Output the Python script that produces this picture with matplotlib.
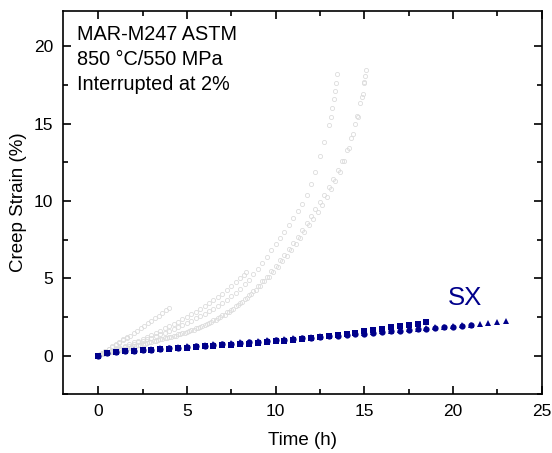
import matplotlib
matplotlib.use('Agg')
import matplotlib.pyplot as plt

plt.rcParams['font.family'] = ['Liberation Sans', 'DejaVu Sans']

# MAR-M247 reference curves (grey, to rupture)
t_a = [0, 0.2, 0.4, 0.6, 0.8, 1.0, 1.2, 1.4, 1.6]
e_a = [0, 0.15, 0.3, 0.45, 0.6, 0.75, 0.9, 1.05, 1.22]

t_b = [0, 0.2, 0.4, 0.6, 0.8, 1.0, 1.2, 1.4, 1.6, 1.8, 2.0, 2.2, 2.4, 2.6, 2.8, 3.0, 3.2, 3.4, 3.6, 3.8, 4.0]
e_b = [0, 0.15, 0.28, 0.42, 0.56, 0.7, 0.84, 0.98, 1.12, 1.28, 1.45, 1.6, 1.76, 1.92, 2.08, 2.25, 2.41, 2.57, 2.74, 2.92, 3.1]

t_c = [0, 0.25, 0.5, 0.75, 1, 1.25, 1.5, 1.75, 2, 2.25, 2.5, 2.75, 3, 3.25, 3.5, 3.75, 4, 4.25, 4.5, 4.75,
       5, 5.25, 5.5, 5.75, 6, 6.25, 6.5, 6.75, 7, 7.25, 7.5, 7.75, 8, 8.2, 8.36]
e_c = [0, 0.1, 0.2, 0.3, 0.4, 0.51, 0.62, 0.73, 0.85, 0.97, 1.1, 1.22, 1.35, 1.48, 1.62, 1.76, 1.9, 2.05, 2.2, 2.35,
       2.5, 2.67, 2.84, 3.02, 3.2, 3.4, 3.6, 3.8, 4.0, 4.25, 4.5, 4.75, 5.0, 5.2, 5.4]

t_d = [0, 0.25, 0.5, 0.75, 1, 1.25, 1.5, 1.75, 2, 2.25, 2.5, 2.75, 3, 3.25, 3.5, 3.75, 4, 4.25, 4.5, 4.75,
       5, 5.25, 5.5, 5.75, 6, 6.25, 6.5, 6.75, 7, 7.25, 7.5, 7.75, 8, 8.25, 8.5, 8.75, 9, 9.25, 9.5, 9.75,
       10, 10.25, 10.5, 10.75, 11, 11.25, 11.5, 11.75, 12, 12.25, 12.5, 12.75, 13, 13.1, 13.2, 13.3, 13.35, 13.4, 13.45]
e_d = [0, 0.1, 0.19, 0.27, 0.35, 0.45, 0.55, 0.65, 0.75, 0.85, 0.95, 1.05, 1.15, 1.26, 1.37, 1.48, 1.6, 1.72, 1.85, 1.97,
       2.1, 2.25, 2.4, 2.55, 2.7, 2.87, 3.04, 3.22, 3.4, 3.62, 3.84, 4.07, 4.3, 4.6, 4.9, 5.25, 5.6, 6.0, 6.4, 6.8,
       7.2, 7.6, 8.0, 8.45, 8.9, 9.35, 9.8, 10.4, 11.1, 11.9, 12.9, 13.8, 14.9, 15.4, 16.0, 16.6, 17.1, 17.6, 18.2]

t_e1 = [0, 0.25, 0.5, 0.75, 1, 1.25, 1.5, 1.75, 2, 2.25, 2.5, 2.75, 3, 3.25, 3.5, 3.75, 4, 4.25, 4.5, 4.75,
        5, 5.25, 5.5, 5.75, 6, 6.25, 6.5, 6.75, 7, 7.25, 7.5, 7.75, 8, 8.25, 8.5, 8.75, 9, 9.25, 9.5, 9.75,
        10, 10.25, 10.5, 10.75, 11, 11.25, 11.5, 11.75, 12, 12.25, 12.5, 12.75, 13, 13.25, 13.5, 13.75,
        14, 14.25, 14.5, 14.6, 14.75, 14.9, 15.0, 15.05, 15.1]
e_e1 = [0, 0.12, 0.18, 0.24, 0.3, 0.37, 0.45, 0.52, 0.6, 0.67, 0.75, 0.82, 0.9, 0.97, 1.05, 1.12, 1.2, 1.28, 1.37, 1.46,
        1.55, 1.66, 1.77, 1.88, 2.0, 2.14, 2.28, 2.44, 2.6, 2.79, 2.98, 3.18, 3.4, 3.65, 3.9, 4.2, 4.5, 4.8, 5.1, 5.45,
        5.8, 6.15, 6.5, 6.9, 7.3, 7.7, 8.1, 8.55, 9.0, 9.45, 9.9, 10.4, 10.9, 11.45, 12.0, 12.6,
        13.3, 14.1, 15.0, 15.5, 16.3, 16.9, 17.7, 18.1, 18.45]

t_e2 = [0.125, 0.375, 0.625, 0.875, 1.125, 1.375, 1.625, 1.875, 2.125, 2.375, 2.625, 2.875, 3.125, 3.375, 3.625,
        3.875, 4.125, 4.375, 4.625, 4.875, 5.125, 5.375, 5.625, 5.875, 6.125, 6.375, 6.625, 6.875, 7.125, 7.375,
        7.625, 7.875, 8.125, 8.375, 8.625, 8.875, 9.125, 9.375, 9.625, 9.875, 10.125, 10.375, 10.625, 10.875,
        11.125, 11.375, 11.625, 11.875, 12.125, 12.375, 12.625, 12.875, 13.125, 13.375, 13.625, 13.875, 14.125,
        14.375, 14.625, 14.875, 15.0]
e_e2 = [0.08, 0.15, 0.21, 0.27, 0.33, 0.4, 0.48, 0.55, 0.62, 0.7, 0.77, 0.85, 0.92, 1.0, 1.07,
        1.15, 1.22, 1.3, 1.39, 1.48, 1.57, 1.68, 1.79, 1.9, 2.02, 2.16, 2.31, 2.47, 2.64, 2.83,
        3.03, 3.25, 3.48, 3.72, 3.98, 4.25, 4.52, 4.8, 5.1, 5.42, 5.75, 6.1, 6.45, 6.82,
        7.2, 7.6, 8.0, 8.42, 8.85, 9.3, 9.75, 10.25, 10.75, 11.3, 11.9, 12.6, 13.4,
        14.3, 15.4, 16.7, 17.6]

grey_t = [t_a, t_b, t_c, t_d, t_e1, t_e2]
grey_e = [e_a, e_b, e_c, e_d, e_e1, e_e2]

# SX curves (interrupted at 2 %)
t_sq = [0, 0.5, 1, 1.5, 2, 2.5, 3, 3.5, 4, 4.5, 5, 5.5, 6, 6.5, 7, 7.5, 8, 8.5, 9, 9.5, 10,
        10.5, 11, 11.5, 12, 12.5, 13, 13.5, 14, 14.5, 15, 15.5, 16, 16.5, 17, 17.5, 18, 18.5]
e_sq = [0.0, 0.2, 0.25, 0.28, 0.32, 0.35, 0.38, 0.41, 0.45, 0.48, 0.52, 0.55, 0.59, 0.62, 0.66, 0.7, 0.74, 0.78,
        0.82, 0.87, 0.92, 0.97, 1.02, 1.08, 1.14, 1.2, 1.27, 1.34, 1.41, 1.49, 1.57, 1.65, 1.73, 1.82, 1.9,
        1.98, 2.06, 2.2]

t_ci = [0, 0.5, 1, 1.5, 2, 2.5, 3, 3.5, 4, 4.5, 5, 5.5, 6, 6.5, 7, 7.5, 8, 8.5, 9, 9.5, 10,
        10.5, 11, 11.5, 12, 12.5, 13, 13.5, 14, 14.5, 15, 15.5, 16, 16.5, 17, 17.5, 18, 18.5, 19, 19.5,
        20, 20.5, 21]
e_ci = [0.0, 0.18, 0.23, 0.27, 0.31, 0.35, 0.39, 0.43, 0.47, 0.51, 0.56, 0.6, 0.64, 0.68, 0.72, 0.77, 0.81,
        0.85, 0.9, 0.94, 0.99, 1.03, 1.07, 1.12, 1.16, 1.21, 1.25, 1.29, 1.34, 1.38, 1.43, 1.47, 1.52, 1.56,
        1.61, 1.65, 1.7, 1.74, 1.79, 1.83, 1.88, 1.92, 1.97]

t_tr = [0, 0.5, 1, 1.5, 2, 2.5, 3, 3.5, 4, 4.5, 5, 5.5, 6, 6.5, 7, 7.5, 8, 8.5, 9, 9.5, 10,
        10.5, 11, 11.5, 12, 12.5, 13, 13.5, 14, 14.5, 15, 15.5, 16, 16.5, 17, 17.5, 18, 18.5, 19, 19.5,
        20, 20.5, 21, 21.5, 22, 22.5, 23]
e_tr = [0.0, 0.2, 0.25, 0.29, 0.34, 0.38, 0.42, 0.47, 0.51, 0.56, 0.6, 0.64, 0.69, 0.73, 0.78, 0.82, 0.86,
        0.91, 0.95, 1.0, 1.04, 1.08, 1.13, 1.17, 1.22, 1.26, 1.3, 1.35, 1.39, 1.44, 1.48, 1.52, 1.57, 1.61,
        1.66, 1.7, 1.74, 1.79, 1.83, 1.88, 1.92, 1.96, 2.01, 2.05, 2.1, 2.15, 2.22]

navy = '#00008b'
grey = '#dcdcdc'

fig = plt.figure(figsize=(5.52, 4.53), dpi=100)
ax = fig.add_axes([0.1136, 0.1296, 0.8677, 0.8468])

for tt, ee in zip(grey_t, grey_e):
    ax.plot(tt, ee, 'o', ms=3, mfc='none', mec=grey, mew=0.6)

ax.plot(t_sq, e_sq, 's', ms=4.5, color=navy, mew=0)
ax.plot(t_ci, e_ci, 'o', ms=4.5, color=navy, mew=0)
ax.plot(t_tr, e_tr, '^', ms=5, color=navy, mew=0)

ax.set_xlim(-2, 25)
ax.set_ylim(-2.5, 22.3)
ax.set_xticks([0, 5, 10, 15, 20, 25])
ax.set_yticks([0, 5, 10, 15, 20])
ax.set_xticks([2.5, 7.5, 12.5, 17.5, 22.5], minor=True)
ax.set_yticks([-2.5, 2.5, 7.5, 12.5, 17.5], minor=True)
ax.tick_params(which='both', direction='in', top=True, right=True, width=1.2)
ax.tick_params(which='major', length=6, labelsize=12.5, pad=7)
ax.tick_params(which='minor', length=3.5)
for s in ax.spines.values():
    s.set_linewidth(1.2)

ax.set_xlabel('Time (h)', fontsize=13.5, labelpad=9)
ax.set_ylabel('Creep Strain (%)', fontsize=13.5, labelpad=5)

ax.text(0.03, 0.9236, 'MAR-M247 ASTM', transform=ax.transAxes, fontsize=14.3, va='baseline')
ax.text(0.03, 0.8584, '850 \u00b0C/550 MPa', transform=ax.transAxes, fontsize=14.3, va='baseline')
ax.text(0.03, 0.7945, 'Interrupted at 2%', transform=ax.transAxes, fontsize=14.3, va='baseline')
ax.text(19.7, 3.3, 'SX', color=navy, fontsize=18.5, va='baseline')

fig.savefig('out.png', dpi=100)
